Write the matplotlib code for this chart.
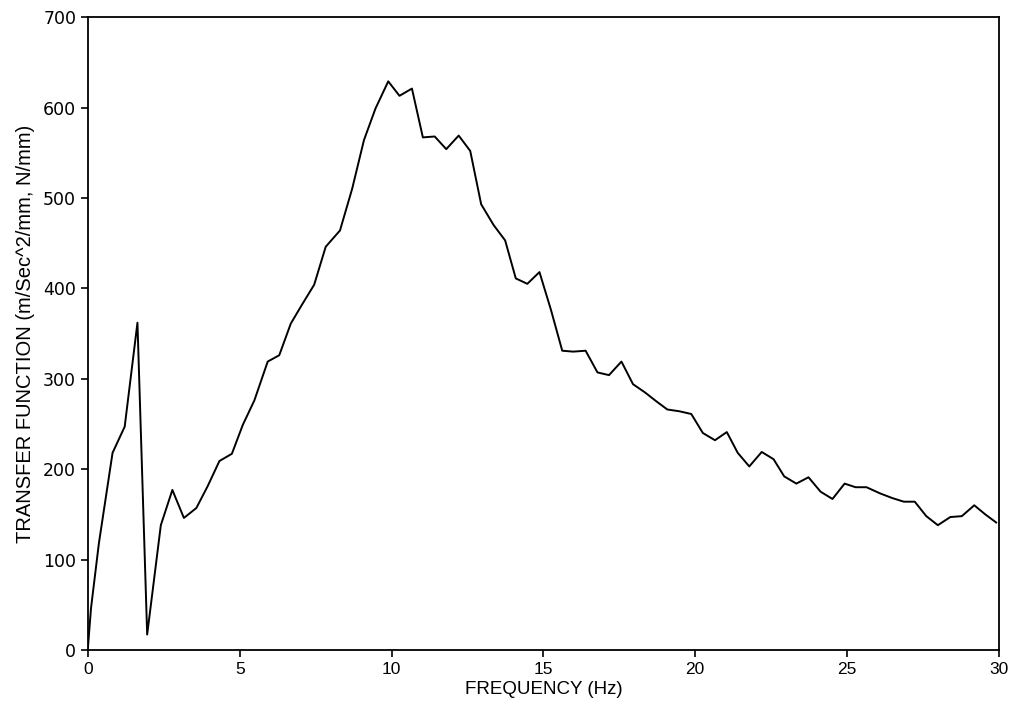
import matplotlib
matplotlib.use('Agg')
import matplotlib.pyplot as plt

# frequency (Hz)
freq = [0.00, 0.10, 0.36, 0.81, 1.21, 1.63, 1.95, 2.40, 2.78, 3.16, 3.57, 3.94,
        4.33, 4.74, 5.10, 5.48, 5.92, 6.30, 6.68, 7.05, 7.45, 7.83, 8.30, 8.70,
        9.09, 9.47, 9.89, 10.26, 10.67, 11.03, 11.42, 11.80, 12.21, 12.59, 12.95,
        13.36, 13.74, 14.09, 14.47, 14.87, 15.25, 15.62, 15.98, 16.39, 16.78,
        17.16, 17.57, 17.95, 18.34, 18.72, 19.08, 19.48, 19.87, 20.25, 20.65,
        21.04, 21.40, 21.78, 22.19, 22.58, 22.93, 23.33, 23.73, 24.13, 24.52,
        24.92, 25.28, 25.64, 26.10, 26.49, 26.87, 27.23, 27.61, 27.99, 28.40,
        28.78, 29.19, 29.55, 29.91]
# transfer function values
tf = [3, 46, 118, 218, 247, 362, 17, 138, 177, 146, 157, 181,
      209, 217, 249, 276, 319, 326, 361, 382, 404, 446, 464, 510,
      564, 599, 629, 613, 621, 567, 568, 554, 569, 552, 493,
      470, 453, 411, 405, 418, 376, 331, 330, 331, 307,
      304, 319, 294, 285, 275, 266, 264, 261, 240, 232,
      241, 218, 203, 219, 211, 192, 184, 191, 175, 167,
      184, 180, 180, 173, 168, 164, 164, 148, 138, 147,
      148, 160, 150, 141]

xticks = [0, 5, 10, 15, 20, 25, 30]
yticks = [0, 100, 200, 300, 400, 500, 600, 700]

fig = plt.figure(figsize=(10.11, 7.15), dpi=100)
ax = fig.add_axes([0.087, 0.091, 0.901, 0.885])
ax.plot(freq, tf, color='black', lw=1.4)

ax.set_xlim(0, 30)
ax.set_ylim(0, 700)
ax.set_xticks(xticks)
ax.set_yticks(yticks)
ax.set_xticklabels([str(t) for t in xticks], family='Liberation Sans', fontsize=12.5)
ax.set_yticklabels([str(t) for t in yticks], family='DejaVu Sans', fontsize=12.5)
ax.tick_params(direction='out', length=5, width=1.2, colors='black')
for s in ax.spines.values():
    s.set_linewidth(1.3)

ax.set_xlabel('FREQUENCY (Hz)', family='Liberation Sans', fontsize=13.5, labelpad=3)
ax.set_ylabel('TRANSFER FUNCTION (m/Sec^2/mm, N/mm)', family='Liberation Sans',
              fontsize=14.5, labelpad=6)

fig.savefig('out.png', dpi=100)
